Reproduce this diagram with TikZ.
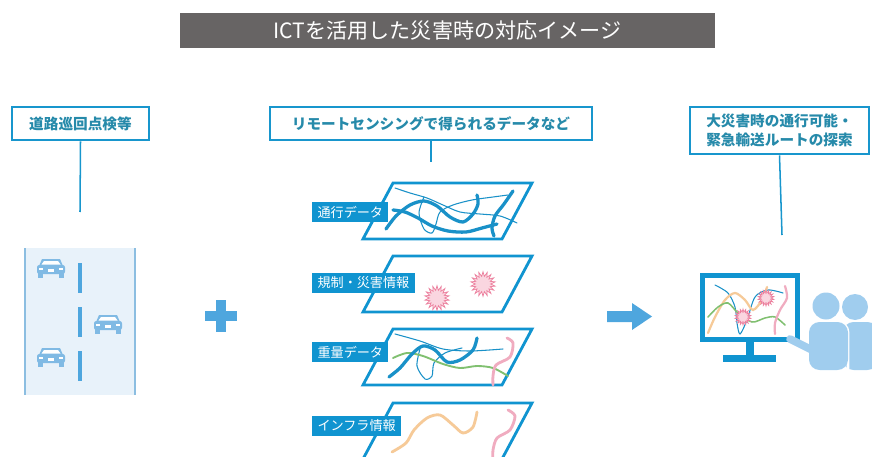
\documentclass[tikz,border=0pt]{standalone}
\usepackage{fontspec}
\setmainfont{Noto Sans CJK JP}
\usepackage{tikz}
\usetikzlibrary{positioning, shapes.geometric, arrows.meta}
\definecolor{titlegray}{RGB}{103, 100, 100}
\definecolor{boxblue}{RGB}{24, 150, 205}
\definecolor{labelteal}{RGB}{38, 138, 170}
\definecolor{tabblue}{RGB}{16, 148, 208}
\definecolor{roadfill}{RGB}{232, 242, 250}
\definecolor{roadedge}{RGB}{140, 190, 225}
\definecolor{carblue}{RGB}{128, 186, 228}
\definecolor{markblue}{RGB}{78, 166, 222}
\definecolor{personblue}{RGB}{160, 205, 238}
\definecolor{curveblue}{RGB}{25, 145, 200}
\definecolor{curvegreen}{RGB}{128, 192, 112}
\definecolor{curveorange}{RGB}{246, 202, 152}
\definecolor{curvepink}{RGB}{240, 172, 192}
\definecolor{starpink}{RGB}{236, 128, 158}
\definecolor{starfill}{RGB}{250, 214, 224}
\tikzset{
    labelbox/.style={
        draw=boxblue, line width=2.2pt, fill=white, text=labelteal,
        font=\fontsize{12.5}{16}\selectfont\bfseries, align=center, inner sep=0pt
    },
    datatab/.style={
        fill=tabblue, text=white, font=\fontsize{11.2}{13}\selectfont,
        anchor=west, minimum height=0.6cm, inner xsep=4.5pt, inner ysep=0pt
    },
    link/.style={
        draw=boxblue, line width=1.3pt
    },
    spark/.style={
        star, star points=18, star point ratio=1.6, draw=starpink, fill=starfill,
        line width=0.6pt, inner sep=0pt
    },
    car/.pic={
        \fill[carblue] (-9,-9) -- (9,-9) -- (12,-2) -- (-12,-2) -- cycle;
        \fill[carblue, rounded corners=2] (-14,-3) rectangle (14,6);
        \fill[white] (-7,-7) -- (7,-7) -- (9.5,-3.5) -- (-9.5,-3.5) -- cycle;
        \fill[carblue] (-13,5) rectangle (-8,10);
        \fill[carblue] (8,5) rectangle (13,10);
        \fill[white] (-12,0) rectangle (-8,2);
        \fill[white] (8,0) rectangle (12,2);
        \fill[white] (-3,1) rectangle (3,4);
    }
}

\begin{document}
\begin{tikzpicture}[
        x=0.03cm, y=-0.03cm,
        % --- STYLE ---
        plate/.style={draw=tabblue, line width=2.4pt, fill=white},
        routewide/.style={curveblue, line width=2.8pt, line cap=round},
        routefine/.style={curveblue, line width=0.9pt, line cap=round},
        weightline/.style={curvegreen, line width=1.6pt, line cap=round},
        infraline/.style={curveorange, line width=2.4pt, line cap=round},
        pinkline/.style={curvepink, line width=2.4pt, line cap=round},
        lanemark/.style={markblue, line width=3.4pt},
        person/.style={fill=personblue}
    ]
        \useasboundingbox (0,0) rectangle (872,457);

        % ==========================================
        % TITLE
        % ==========================================
        \node[fill=titlegray, text=white, minimum width=16.05cm, minimum height=1.05cm,
              inner sep=0pt, font=\fontsize{18}{20}\selectfont] (title) at (447.5,30.5)
              {ICTを活用した災害時の対応イメージ};

        % ==========================================
        % LABELS
        % ==========================================
        \node[labelbox, minimum width=4.11cm, minimum height=0.99cm] (patrol) at (80.5,123.5) {道路巡回点検等};
        \node[labelbox, minimum width=9.66cm, minimum height=0.99cm] (sensing) at (431,123.5) {リモートセンシングで得られるデータなど};
        \node[labelbox, minimum width=5.37cm, minimum height=1.41cm] (search) at (779.5,130.5) {大災害時の通行可能・\\緊急輸送ルートの探索};

        \coordinate (roadtop) at (80,212);
        \coordinate (stacktop) at (431,162);
        \coordinate (screentop) at (782,235);
        \draw[link] (patrol.south) -- (roadtop);
        \draw[link] (sensing.south) -- (stacktop);
        \draw[link] (search.south) -- (screentop);

        % ==========================================
        % ROAD
        % ==========================================
        \fill[roadfill] (25,248) rectangle (135,395);
        \draw[roadedge, line width=1.2pt] (25,248) -- (25,395);
        \draw[roadedge, line width=1.2pt] (135,248) -- (135,395);
        \foreach \y in {263,307,351}
            \draw[lanemark] (80,\y) -- (80,\y+30);
        \pic at (51,268) {car};
        \pic at (108,324) {car};
        \pic at (51,357) {car};

        % plus
        \fill[markblue] (205,311) rectangle (237,321);
        \fill[markblue] (216,300) rectangle (226,332);

        % ==========================================
        % DATA LAYERS
        % ==========================================
        \foreach \t in {183,256,329,403}
            \draw[plate] (393,\t) -- (532,\t) -- (502,\t+56) -- (363,\t+56) -- cycle;

        % traffic
        \draw[routefine] plot[smooth] coordinates {(395,188) (410,193) (427,198) (443,205) (460,212) (480,214) (500,216) (517,223)};
        \draw[routefine] plot[smooth] coordinates {(424,197) (419,213) (424,229) (432,233) (436,224) (440,212) (453,205) (472,200) (493,197) (508,195)};
        \draw[routewide] plot[smooth] coordinates {(386,229) (396,216) (410,205) (424,201) (437,206) (450,217) (463,222) (473,214) (478,204) (477,195)};
        \draw[routewide] plot[smooth] coordinates {(393,210) (405,212) (418,218) (432,226) (448,231) (466,232) (482,228) (497,224)};
        \draw[routewide] plot[smooth] coordinates {(513,191) (504,204) (495,216) (492,228) (494,236)};
        \node[datatab] (traffic) at (312,212) {通行データ};

        % restrictions
        \node[spark, minimum size=0.74cm] (sparkA) at (437,298) {};
        \node[spark, minimum size=0.74cm] (sparkB) at (483,284) {};
        \node[datatab] (restrict) at (312,282.5) {規制・災害情報};

        % heavy vehicles
        \draw[routefine] plot[smooth] coordinates {(395,334) (420,341) (443,349) (470,351) (503,349)};
        \draw[routefine] plot[smooth] coordinates {(420,349) (417,366) (425,379) (432,376) (434,363) (445,353) (462,348)};
        \draw[weightline] plot[smooth] coordinates {(393,358) (407,353) (423,356) (443,364) (460,368) (477,366) (493,368) (508,376)};
        \draw[routewide] plot[smooth] coordinates {(389,377) (400,368) (412,354) (423,346) (435,350) (447,362) (460,360) (473,350) (477,338)};
        \draw[pinkline] plot[smooth] coordinates {(507,338) (513,343) (510,357) (496,365) (493,376) (493,385)};
        \node[datatab] (weight) at (312,352) {重量データ};

        % infrastructure
        \draw[infraline] plot[smooth] coordinates {(392,452) (406,443) (414,430) (427,418) (440,415) (453,425) (463,433) (473,427) (477,412)};
        \draw[pinkline] plot[smooth] coordinates {(508,410) (515,416) (510,430) (497,438) (493,450) (493,460)};
        \node[datatab] (infra) at (312,426) {インフラ情報};

        % arrow
        \fill[markblue] (607,311) -- (632,311) -- (632,303) -- (652,316.5) -- (632,330) -- (632,322) -- (607,322) -- cycle;

        % ==========================================
        % MONITOR + PEOPLE
        % ==========================================
        \fill[tabblue] (746,340) rectangle (754,356);
        \fill[tabblue] (723,355) rectangle (776,362);
        \draw[tabblue, line width=4.3pt, fill=white] (702.5,275.5) rectangle (797.5,339.5);

        \draw[routefine] plot[smooth] coordinates {(715,285) (728,293) (735,307) (737,323) (740,334) (747,320) (755,297) (768,290) (783,293)};
        \draw[infraline, line width=1.9pt] plot[smooth] coordinates {(708,333) (715,317) (725,300) (735,293) (745,300) (753,310) (762,300) (767,287)};
        \draw[weightline, line width=1.3pt] plot[smooth] coordinates {(708,317) (718,307) (728,303) (738,313) (752,322) (765,318) (775,317) (785,325)};
        \draw[pinkline, line width=1.9pt] plot[smooth] coordinates {(785,286) (787,298) (780,310) (775,323) (775,334)};
        \node[spark, minimum size=0.48cm] (sparkC) at (743,317) {};
        \node[spark, minimum size=0.48cm] (sparkD) at (766,298) {};

        % back person
        \fill[person] (855,307) circle (13);
        \fill[person, rounded corners=9pt] (843,370) -- (843,322) -- (878,322) -- (878,370) -- cycle;
        % front person
        \draw[white, line width=2.4pt] (826,306) circle (13.5);
        \draw[white, line width=2.4pt, rounded corners=9pt] (809,370) -- (809,322) -- (848,322) -- (848,370);
        \fill[person] (826,306) circle (13.5);
        \fill[person, rounded corners=9pt] (809,370) -- (809,322) -- (848,322) -- (848,370) -- cycle;
        \draw[personblue, line width=6.5pt, line cap=round] (790,339) -- (812,350);

    \end{tikzpicture}
\end{document}
